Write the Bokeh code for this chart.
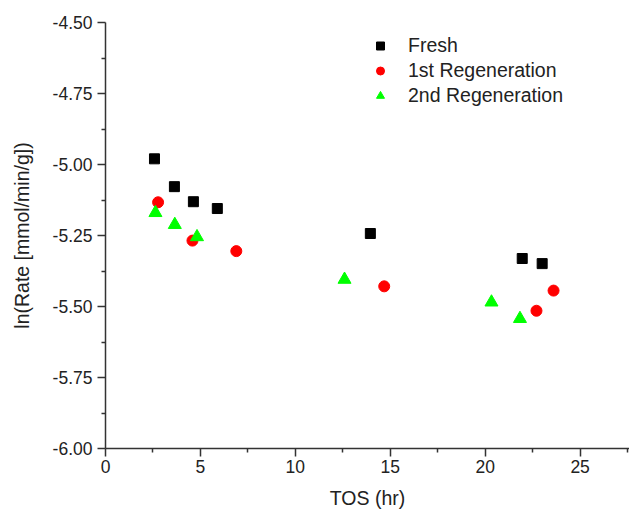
from bokeh.plotting import figure
from bokeh.models import FixedTicker, Range1d, Legend, LegendItem, NumeralTickFormatter
from bokeh.embed import file_html
from bokeh.resources import INLINE

fresh_x = [2.58, 3.63, 4.63, 5.89, 13.95, 21.95, 23.0]
fresh_y = [-4.980, -5.078, -5.131, -5.155, -5.243, -5.331, -5.349]
regen1_x = [2.77, 4.58, 6.89, 14.68, 22.7, 23.6]
regen1_y = [-5.133, -5.268, -5.305, -5.429, -5.515, -5.444]
regen2_x = [2.63, 3.65, 4.82, 12.59, 20.33, 21.83]
regen2_y = [-5.170, -5.212, -5.255, -5.405, -5.485, -5.543]

x_ticks = [0, 5, 10, 15, 20, 25]
y_ticks = [-6.0, -5.75, -5.5, -5.25, -5.0, -4.75, -4.5]

FONT = "Liberation Sans"

p = figure(width=629, height=511, output_backend="svg", toolbar_location=None,
           x_range=Range1d(0, 27.6), y_range=Range1d(-6.0, -4.5),
           min_border_left=105, min_border_right=0, min_border_top=22, min_border_bottom=63,
           background_fill_color="white", border_fill_color="white")
p.outline_line_color = None
p.grid.visible = False

r1 = p.scatter(fresh_x, fresh_y, marker="square", size=10, color="black")
r2 = p.scatter(regen1_x, regen1_y, marker="circle", size=11, color="#ff0000")
r3 = p.scatter(regen2_x, regen2_y, marker="triangle", size=13, color="#00ff00")

for ax in (p.xaxis[0], p.yaxis[0]):
    ax.axis_line_color = "#333333"
    ax.axis_line_width = 1.5
    ax.major_tick_line_color = "#333333"
    ax.minor_tick_line_color = "#333333"
    ax.major_tick_line_width = 1.5
    ax.minor_tick_line_width = 1.5
    ax.major_tick_out = 8
    ax.major_tick_in = 0
    ax.minor_tick_out = 4
    ax.minor_tick_in = 0
    ax.major_label_text_font = FONT
    ax.major_label_text_font_size = "17.5px"
    ax.major_label_text_color = "#222222"
    ax.axis_label_text_font = FONT
    ax.axis_label_text_font_size = "19.5px"
    ax.axis_label_text_font_style = "normal"
    ax.axis_label_text_color = "#222222"

p.xaxis[0].ticker = FixedTicker(ticks=x_ticks, minor_ticks=[2.5, 7.5, 12.5, 17.5, 22.5, 27.5])
p.yaxis[0].ticker = FixedTicker(ticks=y_ticks,
                                minor_ticks=[-5.875, -5.625, -5.375, -5.125, -4.875, -4.625])
p.yaxis[0].formatter = NumeralTickFormatter(format="0.00")
p.xaxis.axis_label = "TOS (hr)"
p.yaxis.axis_label = "ln(Rate [mmol/min/g])"
p.xaxis[0].major_label_standoff = 3
p.yaxis[0].major_label_standoff = 5
p.xaxis[0].axis_label_standoff = 11
p.yaxis[0].axis_label_standoff = 17

legend = Legend(items=[LegendItem(label="Fresh", renderers=[r1]),
                       LegendItem(label="1st Regeneration", renderers=[r2]),
                       LegendItem(label="2nd Regeneration", renderers=[r3])],
                location=(265, 340), padding=0, margin=0, spacing=0,
                glyph_width=20, glyph_height=25, label_height=25, label_standoff=18,
                label_text_font=FONT, label_text_font_size="19.5px", label_text_color="#222222",
                border_line_color=None, background_fill_alpha=0)
p.add_layout(legend, "center")

open("out.html", "w").write(file_html(p, INLINE))
